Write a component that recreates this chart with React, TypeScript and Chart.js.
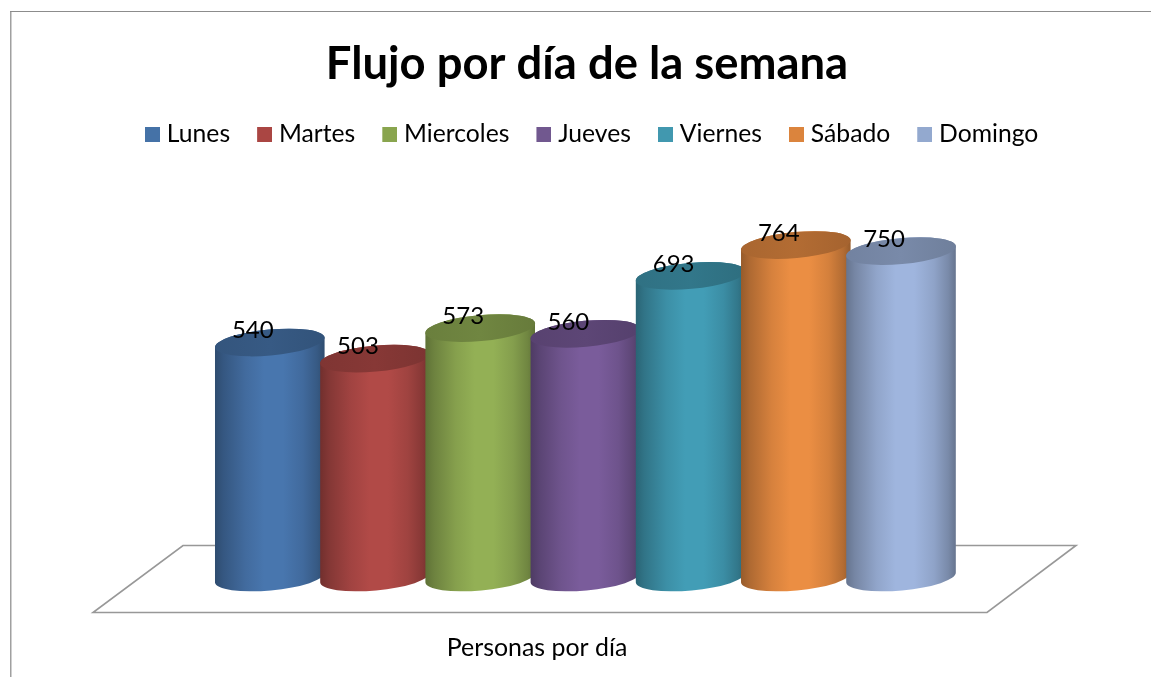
import React, { useEffect, useRef } from "react";
import { Chart, registerables } from "chart.js";

Chart.register(...registerables);

const TITLE = "Flujo por día de la semana";
const CATEGORIES = ["Personas por día"];
const SERIES_NAMES = ["Lunes", "Martes", "Miercoles", "Jueves", "Viernes", "Sábado", "Domingo"];
const SERIES_VALUES = [540, 503, 573, 560, 693, 764, 750];
const LEGEND_COLORS = ["#4572A7", "#AA4643", "#89A54E", "#71588F", "#4198AF", "#DB843D", "#93A9CF"];
const FACE_COLORS = ["#4876AE", "#B14A47", "#93B055", "#7A5C9B", "#429DB6", "#EB8E43", "#9FB5DE"];

const FONT = "Lato, Carlito, Calibri, sans-serif";
const LEGEND_SIZE = 24.7;
const BOX_SLOT = 30;
const CYL_SHIFT = -1.6;

function shade(hex: string, f: number) {
  const n = parseInt(hex.slice(1), 16);
  const c = [(n >> 16) & 255, (n >> 8) & 255, n & 255].map((v) => Math.round(v * f));
  return `rgb(${c[0]},${c[1]},${c[2]})`;
}

function legendSwatch(color: string) {
  const c = document.createElement("canvas");
  c.width = Math.round(BOX_SLOT + LEGEND_SIZE - 14);
  c.height = 15;
  const g = c.getContext("2d")!;
  g.fillStyle = color;
  g.fillRect(c.width - 15, 0, 15, 15);
  return c;
}

const cylinderPlugin = {
  id: "cylinders",
  beforeDraw(chart: any) {
    const { ctx } = chart;
    ctx.save();
    ctx.fillStyle = "#ffffff";
    ctx.fillRect(0, 0, chart.width, chart.height);
    ctx.fillStyle = "#a0a0a0";
    ctx.fillRect(10, 11, 1.5, chart.height - 11);
    ctx.fillStyle = "#8c8c8c";
    ctx.fillRect(10, 11, chart.width - 10, 1);
    ctx.restore();
  },
  beforeDatasetsDraw(chart: any) {
    const { ctx, chartArea } = chart;
    const y0 = chart.scales.y.getPixelForValue(0);
    ctx.save();
    ctx.strokeStyle = "#989898";
    ctx.lineWidth = 1.6;
    ctx.lineJoin = "miter";
    ctx.beginPath();
    ctx.moveTo(chartArea.left + 65, y0 - 32);
    ctx.lineTo(chartArea.right + 20, y0 - 32);
    ctx.lineTo(chartArea.right - 69, y0 + 35);
    ctx.lineTo(chartArea.left - 25, y0 + 35);
    ctx.closePath();
    ctx.stroke();

    chart.data.datasets.forEach((_: any, i: number) => {
      const bar = chart.getDatasetMeta(i).data[0];
      const color = FACE_COLORS[i];
      const rx = bar.width / 2;
      const ry = 13;
      const rot = (-5.2 * Math.PI) / 180;
      const cx = bar.x + CYL_SHIFT;
      const left = cx - rx;
      const right = cx + rx;
      const side = ctx.createLinearGradient(left, 0, right, 0);
      [[0, 0.64], [0.08, 0.74], [0.28, 0.91], [0.45, 1], [0.62, 1], [0.8, 0.9], [0.93, 0.76], [1, 0.64]].forEach(
        ([s, f]) => side.addColorStop(s, shade(color, f))
      );
      ctx.beginPath();
      ctx.ellipse(cx, bar.base, rx, ry, rot, 0, Math.PI);
      ctx.ellipse(cx, bar.y, rx, ry, rot, Math.PI, Math.PI * 2);
      ctx.closePath();
      ctx.fillStyle = side;
      ctx.fill();

      const cap = ctx.createLinearGradient(left, 0, right, 0);
      cap.addColorStop(0, shade(color, 0.72));
      cap.addColorStop(0.5, shade(color, 0.76));
      cap.addColorStop(1, shade(color, 0.7));
      ctx.beginPath();
      ctx.ellipse(cx, bar.y, rx, ry, rot, 0, Math.PI * 2);
      ctx.fillStyle = cap;
      ctx.fill();
    });
    ctx.restore();
  },
  beforeDatasetDraw() {
    return false;
  },
  afterDatasetsDraw(chart: any) {
    const { ctx } = chart;
    ctx.save();
    ctx.fillStyle = "#000000";
    ctx.font = `24px ${FONT}`;
    ctx.textAlign = "center";
    ctx.textBaseline = "middle";
    chart.data.datasets.forEach((ds: any, i: number) => {
      const bar = chart.getDatasetMeta(i).data[0];
      ctx.fillText(String(ds.data[0]), bar.x + CYL_SHIFT - 17, bar.y - 12);
    });
    ctx.restore();
  },
};

export default function App() {
  const ref = useRef<HTMLCanvasElement>(null);
  useEffect(() => {
    const chart = new Chart(ref.current!, {
      type: "bar",
      data: {
        labels: CATEGORIES,
        datasets: SERIES_NAMES.map((name, i) => ({
          label: name,
          data: [SERIES_VALUES[i]],
          backgroundColor: LEGEND_COLORS[i],
        })),
      },
      options: {
        responsive: false,
        animation: false,
        events: [],
        layout: { padding: { top: 12, left: 118, right: 95, bottom: 0 } },
        datasets: { bar: { categoryPercentage: 0.7851, barPercentage: 1.046 } },
        scales: {
          x: {
            grid: { display: false },
            border: { display: false },
            afterFit: (s: any) => {
              s.height = 99.5;
            },
            ticks: {
              color: "#000000",
              font: { family: FONT, size: 24.9 },
              padding: 48,
              labelOffset: -50,
              maxRotation: 0,
            },
          },
          y: { display: false, min: 0, max: 967 },
        },
        plugins: {
          tooltip: { enabled: false },
          title: {
            display: true,
            text: TITLE,
            color: "#000000",
            font: { family: FONT, size: 45.4, weight: "bold" },
            padding: { top: 25, bottom: 24 },
          },
          legend: {
            display: true,
            position: "top",
            align: "start",
            labels: {
              color: "#000000",
              font: { family: FONT, size: LEGEND_SIZE },
              padding: 6.5,
              boxHeight: 15,
              usePointStyle: true,
              pointStyleWidth: BOX_SLOT,
              generateLabels: (c: any) =>
                Chart.defaults.plugins.legend.labels.generateLabels(c).map((l: any, i: number) => ({
                  ...l,
                  pointStyle: legendSwatch(LEGEND_COLORS[i]),
                })),
            },
          },
        },
      },
      plugins: [cylinderPlugin],
    } as any);
    return () => chart.destroy();
  }, []);
  return (
    <canvas
      ref={ref}
      width={1151}
      height={677}
      style={{ position: "absolute", left: 0, top: 0, width: 1151, height: 677, display: "block" }}
    />
  );
}
